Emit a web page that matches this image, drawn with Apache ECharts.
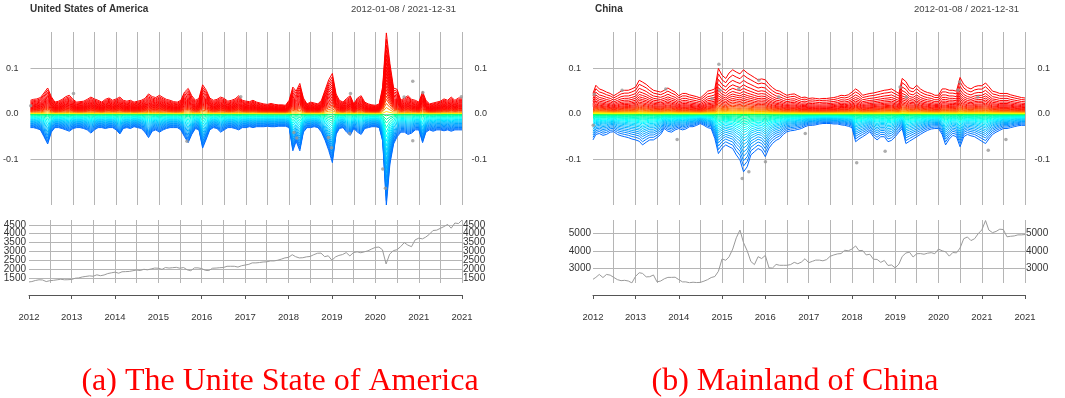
<!DOCTYPE html>
<html>
<head>
<meta charset="utf-8">
<title>Quantile spectrum - USA and China</title>
<script src="https://cdn.jsdelivr.net/npm/echarts@6/dist/echarts.min.js"></script>
<style>
  html, body { margin: 0; padding: 0; background: #fff; }
  #chart { width: 1065px; height: 398px; }
</style>
</head>
<body>
<div id="chart"></div>
<script>
// sample dates: 2012-01-08, then the 1st of every month, then 2021-12-31
const T0 = Date.UTC(2012, 0, 8)
const T1 = Date.UTC(2021, 11, 31)
const dates = [T0]
for (let i = 1; i < 120; i++) dates.push(Date.UTC(2012, i, 1))
dates.push(T1)

const yearTicks = [T0]
for (let y = 2013; y <= 2021; y++) yearTicks.push(Date.UTC(y, 0, 1))
yearTicks.push(T1)

const gridDates = []
for (let y = 2012; y <= 2021; y++) {
  if (y > 2012) gridDates.push(Date.UTC(y, 0, 1))
  gridDates.push(Date.UTC(y, 6, 1))
}
gridDates.push(T1)

// ---- United States: outermost upper / lower quantile lines ----
const usUpper = [
  0.030, 0.032, 0.033, 0.036, 0.046, 0.057, 0.038, 0.026, 0.028, 0.032, 0.038, 0.041,
  0.032, 0.026, 0.027, 0.028, 0.032, 0.037, 0.033, 0.030, 0.026, 0.032, 0.035, 0.030,
  0.033, 0.037, 0.030, 0.028, 0.030, 0.026, 0.028, 0.030, 0.034, 0.044, 0.038, 0.036,
  0.041, 0.036, 0.032, 0.030, 0.027, 0.026, 0.030, 0.048, 0.056, 0.040, 0.030, 0.034,
  0.064, 0.052, 0.035, 0.030, 0.032, 0.037, 0.034, 0.028, 0.030, 0.033, 0.040, 0.030,
  0.028, 0.027, 0.030, 0.026, 0.024, 0.022, 0.021, 0.023, 0.021, 0.020, 0.020, 0.019,
  0.030, 0.059, 0.050, 0.067, 0.035, 0.022, 0.026, 0.024, 0.022, 0.030, 0.053, 0.075,
  0.089, 0.044, 0.030, 0.026, 0.034, 0.040, 0.022, 0.035, 0.040, 0.026, 0.022, 0.020,
  0.019, 0.022, 0.060, 0.178, 0.111, 0.057, 0.054, 0.030, 0.035, 0.040, 0.032, 0.030,
  0.026, 0.049, 0.030, 0.022, 0.024, 0.026, 0.028, 0.033, 0.030, 0.037, 0.030, 0.035,
  0.035
]
const usLower = [
  -0.030, -0.030, -0.032, -0.035, -0.050, -0.066, -0.040, -0.030, -0.030, -0.032, -0.035, -0.038,
  -0.032, -0.030, -0.030, -0.032, -0.035, -0.042, -0.035, -0.030, -0.030, -0.032, -0.030, -0.030,
  -0.035, -0.044, -0.032, -0.030, -0.032, -0.028, -0.030, -0.032, -0.040, -0.052, -0.038, -0.035,
  -0.040, -0.035, -0.032, -0.030, -0.030, -0.030, -0.035, -0.050, -0.063, -0.045, -0.032, -0.035,
  -0.075, -0.055, -0.035, -0.030, -0.032, -0.040, -0.035, -0.030, -0.030, -0.032, -0.035, -0.030,
  -0.030, -0.028, -0.030, -0.028, -0.028, -0.028, -0.027, -0.028, -0.028, -0.027, -0.027, -0.027,
  -0.030, -0.081, -0.060, -0.081, -0.040, -0.030, -0.030, -0.028, -0.030, -0.040, -0.058, -0.080,
  -0.107, -0.045, -0.032, -0.030, -0.040, -0.047, -0.032, -0.040, -0.045, -0.032, -0.030, -0.028,
  -0.028, -0.030, -0.060, -0.200, -0.110, -0.066, -0.050, -0.040, -0.040, -0.045, -0.042, -0.035,
  -0.035, -0.063, -0.040, -0.035, -0.038, -0.035, -0.035, -0.037, -0.035, -0.038, -0.035, -0.035,
  -0.035
]
const usPrice = [
  1290, 1310, 1370, 1410, 1400, 1310, 1360, 1380, 1410, 1440, 1410, 1415,
  1430, 1500, 1515, 1570, 1600, 1630, 1610, 1690, 1640, 1680, 1760, 1800,
  1840, 1780, 1860, 1870, 1880, 1920, 1960, 1930, 2000, 1970, 2020, 2070,
  2060, 1995, 2100, 2070, 2090, 2110, 2060, 2100, 1970, 1920, 2080, 2080,
  2040, 1940, 1930, 2060, 2070, 2090, 2100, 2170, 2170, 2170, 2125, 2200,
  2240, 2280, 2360, 2360, 2380, 2410, 2420, 2470, 2470, 2510, 2570, 2640,
  2670, 2820, 2710, 2640, 2650, 2700, 2720, 2820, 2900, 2910, 2710, 2760,
  2510, 2700, 2780, 2830, 2940, 2750, 2940, 2980, 2930, 2980, 3040, 3140,
  3230, 3250, 3100, 2300, 2850, 3050, 3100, 3270, 3500, 3360, 3270, 3650,
  3750, 3710, 3810, 3970, 4180, 4200, 4300, 4400, 4520, 4310, 4600, 4570,
  4766
]
// gray marks [date, value]
const usPoints = [
  ['2012-01-10', 0.018], ['2013-01-05', 0.045], ['2015-08-22', -0.060], ['2016-11-18', 0.038],
  ['2018-02-10', -0.041], ['2018-03-06', -0.053], ['2018-11-29', -0.052], ['2018-12-25', -0.074],
  ['2019-05-26', -0.043], ['2019-06-03', 0.045], ['2020-03-02', -0.121], ['2020-03-24', -0.163],
  ['2020-08-29', 0.037], ['2020-11-10', 0.072], ['2020-11-10', -0.059], ['2021-02-03', 0.047],
  ['2021-12-25', 0.038]
]

// ---- China ----
const cnUpper = [
  0.045, 0.063, 0.055, 0.052, 0.048, 0.045, 0.040, 0.045, 0.050, 0.052, 0.052, 0.055,
  0.059, 0.074, 0.070, 0.065, 0.058, 0.052, 0.050, 0.048, 0.052, 0.057, 0.052, 0.048,
  0.040, 0.045, 0.045, 0.042, 0.040, 0.038, 0.035, 0.042, 0.050, 0.052, 0.055, 0.100,
  0.085, 0.078, 0.090, 0.097, 0.092, 0.088, 0.097, 0.090, 0.085, 0.080, 0.075, 0.077,
  0.075, 0.065, 0.058, 0.052, 0.050, 0.045, 0.041, 0.043, 0.044, 0.040, 0.036, 0.037,
  0.034, 0.035, 0.034, 0.033, 0.034, 0.034, 0.035, 0.036, 0.038, 0.041, 0.040, 0.042,
  0.048, 0.055, 0.050, 0.041, 0.043, 0.045, 0.046, 0.048, 0.050, 0.052, 0.053, 0.055,
  0.050, 0.045, 0.078, 0.071, 0.058, 0.055, 0.063, 0.055, 0.050, 0.047, 0.045, 0.041,
  0.041, 0.055, 0.055, 0.052, 0.052, 0.050, 0.080, 0.065, 0.058, 0.055, 0.060, 0.062,
  0.062, 0.068, 0.060, 0.050, 0.048, 0.045, 0.045, 0.045, 0.042, 0.040, 0.038, 0.036,
  0.035
]
const cnLower = [
  -0.057, -0.045, -0.043, -0.047, -0.045, -0.040, -0.039, -0.045, -0.048, -0.050, -0.052, -0.055,
  -0.057, -0.060, -0.068, -0.062, -0.057, -0.057, -0.052, -0.045, -0.032, -0.038, -0.040, -0.035,
  -0.032, -0.035, -0.033, -0.028, -0.028, -0.025, -0.021, -0.025, -0.030, -0.032, -0.054, -0.087,
  -0.075, -0.068, -0.072, -0.076, -0.090, -0.101, -0.127, -0.116, -0.090, -0.083, -0.076, -0.080,
  -0.094, -0.075, -0.065, -0.058, -0.054, -0.045, -0.039, -0.037, -0.036, -0.034, -0.032, -0.028,
  -0.025, -0.025, -0.024, -0.022, -0.021, -0.021, -0.021, -0.022, -0.022, -0.024, -0.025, -0.027,
  -0.030, -0.061, -0.055, -0.050, -0.045, -0.039, -0.050, -0.057, -0.050, -0.050, -0.061, -0.058,
  -0.050, -0.040, -0.032, -0.065, -0.060, -0.055, -0.050, -0.045, -0.040, -0.036, -0.033, -0.032,
  -0.032, -0.045, -0.068, -0.055, -0.047, -0.050, -0.072, -0.050, -0.045, -0.048, -0.050, -0.055,
  -0.060, -0.065, -0.055, -0.045, -0.040, -0.036, -0.032, -0.032, -0.030, -0.028, -0.026, -0.025,
  -0.025
]
const cnPrice = [
  2350, 2460, 2630, 2450, 2630, 2590, 2460, 2330, 2270, 2290, 2250, 2140,
  2520, 2730, 2690, 2490, 2500, 2600, 2200, 2250, 2380, 2460, 2460, 2470,
  2330, 2200, 2200, 2150, 2180, 2160, 2170, 2240, 2330, 2450, 2510, 2810,
  3530, 3450, 3650, 4100, 4750, 5200, 4470, 4000, 3380, 3200, 3660, 3550,
  3730, 3010, 3000, 3210, 3160, 3160, 3160, 3200, 3330, 3250, 3350, 3540,
  3310, 3390, 3460, 3460, 3420, 3490, 3680, 3760, 3820, 3840, 4030, 4000,
  4100, 4280, 4010, 4020, 3760, 3800, 3510, 3500, 3330, 3440, 3150, 3180,
  3010, 3230, 3670, 3870, 3920, 3640, 3830, 3840, 3800, 3860, 3890, 3830,
  4100, 4000, 3940, 3690, 3900, 3880, 4160, 4700, 4800, 4590, 4700, 4990,
  5210, 5750, 5200, 5050, 5120, 5250, 5230, 4810, 4840, 4860, 4920, 4920,
  4940
]
const cnPoints = [
  ['2012-01-10', -0.025], ['2012-01-20', 0.043], ['2012-09-10', 0.052], ['2013-09-13', 0.055],
  ['2013-12-18', -0.056], ['2014-10-08', 0.034], ['2014-12-05', 0.109], ['2014-12-13', 0.052],
  ['2015-05-22', 0.055], ['2015-06-20', -0.142], ['2015-08-15', -0.127], ['2015-11-07', 0.074],
  ['2016-01-02', -0.105], ['2016-04-23', 0.037], ['2016-12-03', -0.043], ['2018-02-10', -0.107],
  ['2018-10-08', -0.082], ['2019-02-11', 0.059], ['2019-04-05', 0.037], ['2020-06-14', 0.052],
  ['2020-06-27', 0.070], ['2020-11-28', 0.037], ['2021-02-24', -0.080], ['2021-07-23', -0.056]
]

// share of the outer quantile line that each inner line reaches (outer -> inner)
const usUpFrac = [1.00, 0.92, 0.85, 0.79, 0.73, 0.68, 0.63, 0.58, 0.54, 0.50, 0.46, 0.42, 0.38, 0.34, 0.30, 0.26, 0.22, 0.18, 0.13, 0.08, 0.03]
const usLoFrac = [1.00, 0.95, 0.90, 0.85, 0.80, 0.75, 0.70, 0.65, 0.60, 0.55, 0.50, 0.45, 0.40, 0.35, 0.30, 0.25, 0.20, 0.15, 0.10, 0.06, 0.02]
const cnUpFrac = [1.00, 0.88, 0.76, 0.66, 0.58, 0.51, 0.45, 0.40, 0.35, 0.31, 0.27, 0.235, 0.20, 0.17, 0.14, 0.115, 0.09, 0.07, 0.05, 0.03, 0.012]
const cnLoFrac = [1.00, 0.90, 0.81, 0.73, 0.66, 0.59, 0.53, 0.47, 0.42, 0.37, 0.32, 0.28, 0.24, 0.20, 0.17, 0.14, 0.11, 0.08, 0.055, 0.03, 0.01]

const usPriceTicks = [1500, 2000, 2500, 3000, 3500, 4000, 4500]
const cnPriceTicks = [3000, 4000, 5000]
const retTicks = [-0.1, 0, 0.1]

const GRID_COLOR = '#b5b5b5'
const LABEL_FONT = 'Liberation Sans, Arial, sans-serif'

// red for most of the upper lines, green near zero, blue for the lower tail
const upColor = f => `hsl(${(70 * Math.pow(1 - f, 8)).toFixed(1)}, 100%, 50%)`
const loColor = f => `hsl(${(120 + 95 * Math.pow(f, 0.35)).toFixed(1)}, 100%, 50%)`

function quantileLines(upper, lower, upFrac, loFrac, axis) {
  const out = []
  const add = (env, f, color) => out.push({
    type: 'line', xAxisIndex: axis, yAxisIndex: axis * 2,
    data: dates.map((t, i) => [t, +(env[i] * f).toFixed(5)]),
    showSymbol: false, silent: true, z: 3,
    lineStyle: { color: color, width: 1 }
  })
  loFrac.forEach(f => add(lower, f, loColor(f)))
  upFrac.forEach(f => add(upper, f, upColor(f)))
  return out
}

function gridLines(values, axisKey) {
  return {
    silent: true, z: 1, animation: false,
    symbol: ['none', 'none'],
    label: { show: false },
    lineStyle: { color: GRID_COLOR, width: 1, type: 'solid' },
    data: values.map(v => ({ [axisKey]: v }))
  }
}

function pointSeries(points, axis) {
  return {
    type: 'scatter', xAxisIndex: axis, yAxisIndex: axis * 2,
    data: points.map(p => [Date.parse(p[0]), p[1]]),
    symbolSize: 3.5, silent: true, z: 4,
    itemStyle: { color: '#999' },
    markLine: gridLines(gridDates, 'xAxis')
  }
}

function hostSeries(axis, yValues) {
  return {
    type: 'line', xAxisIndex: axis, yAxisIndex: axis * 2, data: [], z: 1,
    markLine: gridLines(yValues, 'yAxis')
  }
}

function priceSeries(values, axis) {
  return {
    type: 'line', xAxisIndex: axis, yAxisIndex: axis * 2,
    data: dates.map((t, i) => [t, values[i]]),
    showSymbol: false, silent: true, z: 3,
    lineStyle: { color: '#9a9a9a', width: 1 },
    markLine: gridLines(gridDates, 'xAxis')
  }
}

function hiddenX(idx) {
  return { type: 'value', gridIndex: idx, min: T0, max: T1, show: false }
}
function yearX(idx) {
  return {
    type: 'value', gridIndex: idx, min: T0, max: T1, offset: 12,
    axisLine: { show: true, lineStyle: { color: '#555', width: 1 } },
    axisTick: { show: true, length: 4, customValues: yearTicks, lineStyle: { color: '#555' } },
    axisLabel: {
      customValues: yearTicks, margin: 17, fontSize: 9.5, color: '#333', fontFamily: LABEL_FONT,
      showMinLabel: true, showMaxLabel: true, hideOverlap: false,
      formatter: v => String(new Date(v).getUTCFullYear())
    },
    splitLine: { show: false }
  }
}
function labelY(idx, min, max, ticks, side, margin, fmt, size) {
  return {
    type: 'value', gridIndex: idx, min: min, max: max, position: side,
    axisLine: { show: false }, axisTick: { show: false }, splitLine: { show: false },
    axisLabel: {
      customValues: ticks, margin: margin, fontSize: size, color: '#333', fontFamily: LABEL_FONT,
      showMinLabel: true, showMaxLabel: true, hideOverlap: false,
      align: side === 'left' ? 'right' : (margin > 10 ? 'right' : 'left'),
      formatter: fmt
    }
  }
}

const retFmt = v => v.toFixed(1)
const priceFmt = v => String(v)
// the US price labels sit 9px apart; split them over two axes so none is dropped as overlapping
const usTicksA = usPriceTicks.filter((v, i) => i % 2 === 0)
const usTicksB = usPriceTicks.filter((v, i) => i % 2 === 1)

const chart = echarts.init(document.getElementById('chart'), null, { renderer: 'canvas' })

chart.setOption({
  animation: false,
  backgroundColor: '#fff',
  grid: [
    { left: 29, top: 32, width: 433, height: 173 },
    { left: 29, top: 220, width: 433, height: 63 },
    { left: 593, top: 32, width: 432, height: 173 },
    { left: 593, top: 220, width: 432, height: 63 }
  ],
  xAxis: [hiddenX(0), yearX(1), hiddenX(2), yearX(3)],
  yAxis: [
    labelY(0, -0.2, 0.18, retTicks, 'left', 12, retFmt, 9),
    labelY(0, -0.2, 0.18, retTicks, 'right', 25, retFmt, 9),
    labelY(1, 1230, 4770, usTicksA, 'left', 3, priceFmt, 10),
    labelY(1, 1230, 4770, usTicksA, 'right', 1, priceFmt, 10),
    labelY(2, -0.2, 0.18, retTicks, 'left', 12, retFmt, 9),
    labelY(2, -0.2, 0.18, retTicks, 'right', 25, retFmt, 9),
    labelY(3, 2135, 5782, cnPriceTicks, 'left', 2, priceFmt, 10),
    labelY(3, 2135, 5782, cnPriceTicks, 'right', 1, priceFmt, 10),
    labelY(1, 1230, 4770, usTicksB, 'left', 3, priceFmt, 10),
    labelY(1, 1230, 4770, usTicksB, 'right', 1, priceFmt, 10)
  ],
  graphic: [
    { type: 'text', x: 30, y: 9, style: { text: 'United States of America', fill: '#333', font: 'bold 10px ' + LABEL_FONT, align: 'left', verticalAlign: 'middle' } },
    { type: 'text', x: 456, y: 9, style: { text: '2012-01-08 / 2021-12-31', fill: '#444', font: '9.5px ' + LABEL_FONT, align: 'right', verticalAlign: 'middle' } },
    { type: 'text', x: 595, y: 9, style: { text: 'China', fill: '#333', font: 'bold 10px ' + LABEL_FONT, align: 'left', verticalAlign: 'middle' } },
    { type: 'text', x: 1019, y: 9, style: { text: '2012-01-08 / 2021-12-31', fill: '#444', font: '9.5px ' + LABEL_FONT, align: 'right', verticalAlign: 'middle' } },
    { type: 'text', x: 280, y: 382, style: { text: '(a) The Unite State of America', fill: '#ff0000', font: '32px Liberation Serif, Times New Roman, serif', align: 'center', verticalAlign: 'middle' } },
    { type: 'text', x: 795, y: 382, style: { text: '(b) Mainland of China', fill: '#ff0000', font: '32px Liberation Serif, Times New Roman, serif', align: 'center', verticalAlign: 'middle' } }
  ],
  series: [
    hostSeries(0, retTicks),
    pointSeries(usPoints, 0),
    ...quantileLines(usUpper, usLower, usUpFrac, usLoFrac, 0),
    hostSeries(1, usPriceTicks),
    priceSeries(usPrice, 1),
    hostSeries(2, retTicks),
    pointSeries(cnPoints, 2),
    ...quantileLines(cnUpper, cnLower, cnUpFrac, cnLoFrac, 2),
    hostSeries(3, cnPriceTicks),
    priceSeries(cnPrice, 3)
  ]
})

window.addEventListener('resize', () => chart.resize())
</script>
</body>
</html>
